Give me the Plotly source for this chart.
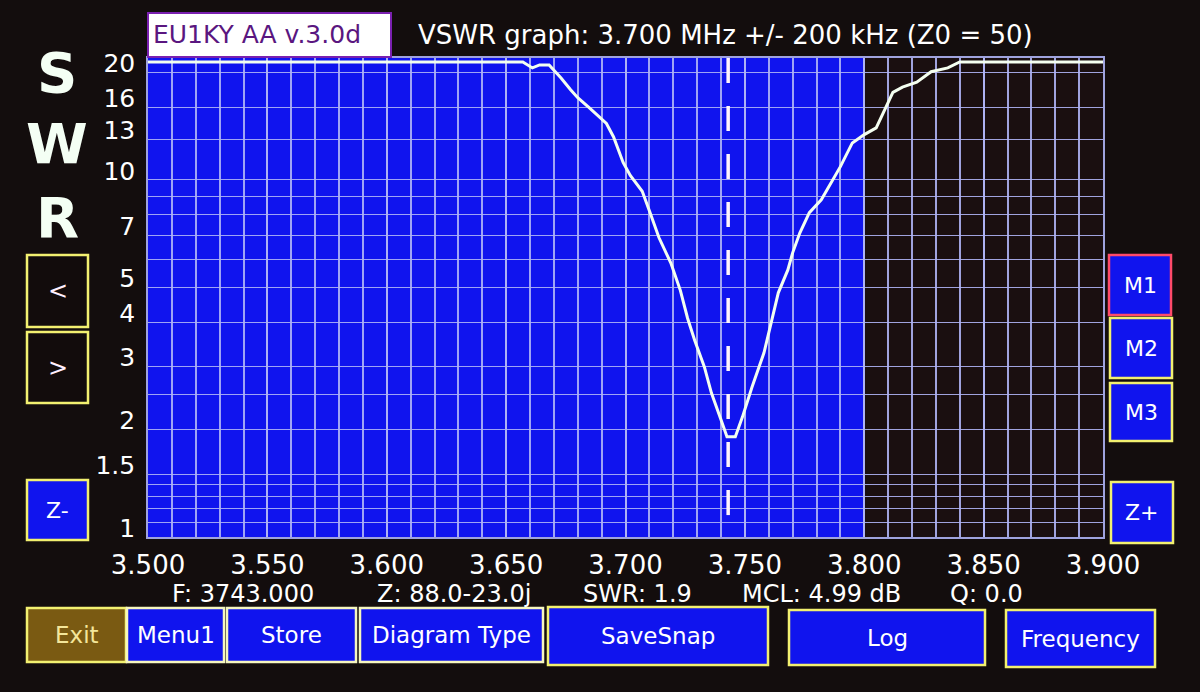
import plotly.graph_objects as go

# ---------------- data ----------------
freq_mhz = [3.500, 3.550, 3.600, 3.650, 3.657, 3.661, 3.664, 3.668, 3.673, 3.677,
            3.680, 3.685, 3.689, 3.692, 3.695, 3.699, 3.702, 3.707, 3.710, 3.714,
            3.719, 3.723, 3.726, 3.729, 3.733, 3.736, 3.740, 3.7425, 3.746, 3.749,
            3.753, 3.758, 3.761, 3.764, 3.768, 3.770, 3.773, 3.777, 3.782, 3.786,
            3.790, 3.795, 3.800, 3.805, 3.808, 3.812, 3.816, 3.822, 3.828, 3.835,
            3.840, 3.850, 3.900]
swr = [21.4, 21.4, 21.4, 21.4, 21.4, 20.6, 21.0, 21.0, 19.3, 17.9,
       17.0, 15.9, 15.0, 14.4, 13.2, 11.2, 10.3, 9.3, 8.2, 6.9,
       5.85, 4.9, 4.1, 3.55, 3.0, 2.53, 2.13, 1.91, 1.91, 2.17,
       2.63, 3.28, 3.98, 4.83, 5.6, 6.25, 7.1, 8.1, 8.8, 9.8,
       10.9, 12.7, 13.4, 14.0, 15.4, 17.6, 18.2, 18.8, 20.1, 20.6,
       21.4, 21.4, 21.4]

x_tick_vals = [3.50, 3.55, 3.60, 3.65, 3.70, 3.75, 3.80, 3.85, 3.90]
x_tick_text = ["3.500", "3.550", "3.600", "3.650", "3.700", "3.750", "3.800", "3.850", "3.900"]
y_grid_vals = [1, 1.1, 1.2, 1.3, 1.4, 1.5, 2, 2.5, 3, 4, 5, 6, 7, 8, 9, 10, 13, 16, 20]
y_grid_text = ["1", "", "", "", "", "1.5", "2", "", "3", "4", "5", "", "7", "", "", "10", "13", "16", "20"]

band_edges = [3.500, 3.800]       # amateur band (blue part of the grid)
marker_freq = 3.743
swr_axis_top = 21.95

info_texts = ["F: 3743.000", "Z: 88.0-23.0j", "SWR: 1.9", "MCL: 4.99 dB", "Q: 0.0"]
title_text = "VSWR graph: 3.700 MHz +/- 200 kHz (Z0 = 50)"
version_text = "EU1KY AA v.3.0d"

# ---------------- layout helpers ----------------
W, H = 1200, 692
L, R, T, B = 148, 1103, 58, 537


def px(x):
    return (x - L) / (R - L)


def py(y):
    return (B - y) / (B - T)


BG = "#130d0d"
BLUE = "#1014ee"
GRID = "rgba(175,180,245,0.9)"
YEL = "#f2f070"
FONT = "DejaVu Sans"

fig = go.Figure()

# SWR curve
fig.add_trace(go.Scatter(
    x=freq_mhz, y=swr, mode="lines",
    line=dict(color="#f4fff0", width=3), hoverinfo="skip", showlegend=False))

# marker dashed line
fig.add_trace(go.Scatter(
    x=[marker_freq, marker_freq], y=[swr_axis_top, 1], mode="lines",
    line=dict(color="#fff4fa", width=3.5, dash="25px,23px"),
    hoverinfo="skip", showlegend=False))

# marker tag under the axis
fig.add_trace(go.Scatter(
    x=[marker_freq], y=[0.965], mode="markers", cliponaxis=False,
    marker=dict(symbol="square", size=10, color="#ffffff"),
    hoverinfo="skip", showlegend=False))

shapes = []
# blue band
shapes.append(dict(type="rect", xref="x", yref="paper", x0=band_edges[0], x1=band_edges[1],
                   y0=0, y1=1, fillcolor=BLUE, line=dict(width=0), layer="below"))

# version box
shapes.append(dict(type="rect", xref="paper", yref="paper",
                   x0=px(148), x1=px(391), y0=py(57), y1=py(13),
                   fillcolor="#ffffff", line=dict(color="#7a20b0", width=2)))

# buttons: (label, x0, y0, x1, y1, fill, border, textcolor, size)
BUTTONS = [
    ("<", 27, 255, 88, 327, "#120c0c", YEL, "#fff0ff", 24),
    (">", 27, 332, 88, 403, "#120c0c", YEL, "#fff0ff", 24),
    ("Z-", 27, 480, 88, 540, BLUE, YEL, "#ffffff", 22),
    ("M1", 1109, 255, 1171, 315, BLUE, "#ff4a6a", "#ffffff", 22),
    ("M2", 1110, 318, 1172, 378, BLUE, YEL, "#ffffff", 22),
    ("M3", 1110, 383, 1172, 441, BLUE, YEL, "#ffffff", 22),
    ("Z+", 1111, 482, 1173, 543, BLUE, YEL, "#ffffff", 22),
    ("Exit", 27, 608, 126, 662, "#7a5a12", YEL, "#f4e69a", 23),
    ("Menu1", 127, 608, 224, 662, BLUE, "#f6f6c0", "#ffffff", 23),
    ("Store", 227, 608, 356, 662, BLUE, "#f6f6c0", "#ffffff", 23),
    ("Diagram Type", 360, 608, 543, 662, BLUE, "#f6f6c0", "#ffffff", 23),
    ("SaveSnap", 548, 607, 768, 665, BLUE, YEL, "#ffffff", 23),
    ("Log", 789, 610, 985, 665, BLUE, YEL, "#ffffff", 23),
    ("Frequency", 1006, 610, 1155, 667, BLUE, YEL, "#ffffff", 23),
]

annotations = []
for lab, x0, y0, x1, y1, fill, border, tc, fs in BUTTONS:
    shapes.append(dict(type="rect", xref="paper", yref="paper",
                       x0=px(x0), x1=px(x1), y0=py(y1), y1=py(y0),
                       fillcolor=fill, line=dict(color=border, width=2.5)))
    annotations.append(dict(xref="paper", yref="paper", x=px((x0 + x1) / 2), y=py((y0 + y1) / 2),
                            text=lab, showarrow=False, xanchor="center", yanchor="middle",
                            font=dict(family=FONT, size=fs, color=tc)))

# big S W R letters
for letter, cy in zip(["S", "W", "R"], [72, 143, 217]):
    annotations.append(dict(xref="paper", yref="paper", x=px(57), y=py(cy), text="<b>%s</b>" % letter,
                            showarrow=False, xanchor="center", yanchor="middle",
                            font=dict(family=FONT, size=56, color="#f4fff4")))

# title & version
annotations.append(dict(xref="paper", yref="paper", x=px(416), y=py(35), text=title_text,
                        showarrow=False, xanchor="left", yanchor="middle",
                        font=dict(family=FONT, size=26, color="#ffffff")))
annotations.append(dict(xref="paper", yref="paper", x=px(151), y=py(35), text=version_text,
                        showarrow=False, xanchor="left", yanchor="middle",
                        font=dict(family=FONT, size=25, color="#5a1680")))

# info line
for txt, x0 in zip(info_texts, [170, 375, 581, 740, 948]):
    annotations.append(dict(xref="paper", yref="paper", x=px(x0), y=py(594), text=txt,
                            showarrow=False, xanchor="left", yanchor="middle",
                            font=dict(family=FONT, size=24, color="#ffffff")))

fig.update_layout(
    width=W, height=H, autosize=False,
    margin=dict(l=L, r=W - R, t=T, b=H - B, pad=0),
    paper_bgcolor=BG, plot_bgcolor="#1a0f10",
    shapes=shapes, annotations=annotations, showlegend=False,
    xaxis=dict(range=[3.5, 3.9], tickmode="array", tickvals=x_tick_vals, ticktext=x_tick_text,
               showgrid=True, gridcolor=GRID, gridwidth=1.6, zeroline=False,
               minor=dict(dtick=0.01, tick0=3.5, showgrid=True, gridcolor=GRID, gridwidth=1.6),
               ticks="", ticklabelstandoff=4,
               tickfont=dict(family=FONT, size=26, color="#ffffff"),
               showline=True, linecolor=GRID, linewidth=1.6, mirror=True),
    yaxis=dict(type="log", range=[0, 1.3417], tickmode="array", tickvals=y_grid_vals,
               ticktext=y_grid_text, showgrid=True, gridcolor=GRID, gridwidth=1.4,
               zeroline=False, ticks="", ticklabelstandoff=6, ticklabelshift=-9,
               tickfont=dict(family=FONT, size=25, color="#ffffff"),
               showline=True, linecolor=GRID, linewidth=1.6, mirror=True),
)

fig.write_html("out.html", config={"displayModeBar": False},
               post_script="document.body.style.margin='0';document.body.style.overflow='hidden';")
